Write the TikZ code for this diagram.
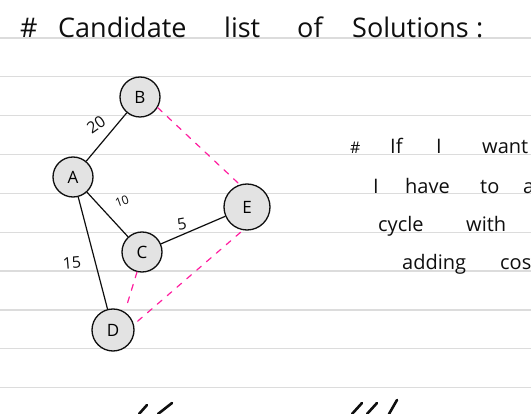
\documentclass[tikz,border=0pt]{standalone}
\usepackage{fontspec}
\setmainfont{Open Sans}
\definecolor{ruleclr}{RGB}{220,220,220}
\definecolor{hotpink}{RGB}{255,30,160}
\definecolor{ink}{RGB}{15,15,15}
\begin{document}
\begin{tikzpicture}[x=1pt,y=-1pt,
  rule/.style={draw=ruleclr, line width=1.3pt},
  vtx/.style={circle, draw=ink, line width=1.3pt, fill=black!11, inner sep=0pt, font=\fontsize{17}{17}\selectfont},
  edge/.style={draw=ink, line width=1.2pt},
  alt/.style={draw=hotpink, line width=1.2pt, dash pattern=on 6pt off 7pt, line cap=round},
  wt/.style={font=\fontsize{16}{16}\selectfont, inner sep=0pt, text=ink},
  ttl/.style={font=\fontsize{27}{27}\selectfont, inner sep=0pt, anchor=base west, text=ink},
  note/.style={font=\fontsize{20}{20}\selectfont, inner sep=0pt, anchor=base west, text=ink},
  scrawl/.style={draw=ink, line width=2.6pt, line cap=round}
]
\useasboundingbox (0,0) rectangle (531,414);
\fill[white] (0,0) rectangle (531,414);
\clip (0,0) rectangle (531,414);
% ruled lines
\foreach \k in {0,...,9} {
  \draw[rule] (0,{38+38.85*\k}) -- (531,{38+38.85*\k});
}
% title
\node[ttl] (t0) at (20,38) {\#};
\node[ttl] (t1) at (58,38) {Candidate};
\node[ttl] (t2) at (224,38) {list};
\node[ttl] (t3) at (297,38) {of};
\node[ttl] (t4) at (352,38) {Solutions};
\node[ttl] (t5) at (476,38) {:};
% graph
\node[vtx, minimum size=40pt] (B) at (140,97) {B};
\node[vtx, minimum size=40pt] (A) at (73,177) {A};
\node[vtx, minimum size=46pt] (E) at (247,207) {E};
\node[vtx, minimum size=40pt] (C) at (142,252) {C};
\node[vtx, minimum size=42pt] (D) at (113,330) {D};
\draw[edge] (A) -- (B);
\draw[edge] (A) -- (C);
\draw[edge] (A) -- (D);
\draw[edge] (C) -- (E);
\draw[alt] (B.-31) -- (E.108);
\draw[alt, shorten <=3pt] (E.-100) -- (D.15);
\draw[alt, shorten >=4pt] (C.-104) -- (D.57);
% weights
\node[wt, rotate=35] (w1) at (96,125) {20};
\node[wt, rotate=20, font=\fontsize{12}{12}\selectfont] (w2) at (122,201) {10};
\node[wt, rotate=10] (w3) at (182,224) {5};
\node[wt, rotate=5] (w4) at (72,263) {15};
% right note
\node[note, font=\fontsize{16}{16}\selectfont] (n0) at (350,154) {\#};
\node[note] (n1) at (390,154) {If};
\node[note] (n2) at (436,154) {I};
\node[note] (n3) at (482,154) {want};
\node[note] (n4) at (373,194) {I};
\node[note] (n5) at (405,194) {have};
\node[note] (n6) at (480,194) {to};
\node[note] (n7) at (523,194) {add};
\node[note] (n8) at (378,232) {cycle};
\node[note] (n9) at (466,232) {with};
\node[note] (n10) at (402,270) {adding};
\node[note] (n11) at (500,270) {cost};
% cut-off handwriting at the bottom
\draw[scrawl] (139,414) -- (147,405);
\draw[scrawl] (158,414) -- (172,403);
\draw[scrawl] (352,414) -- (362,403);
\draw[scrawl] (367,414) -- (377,403);
\draw[scrawl] (389,414) -- (397,400);
\end{tikzpicture}
\end{document}
